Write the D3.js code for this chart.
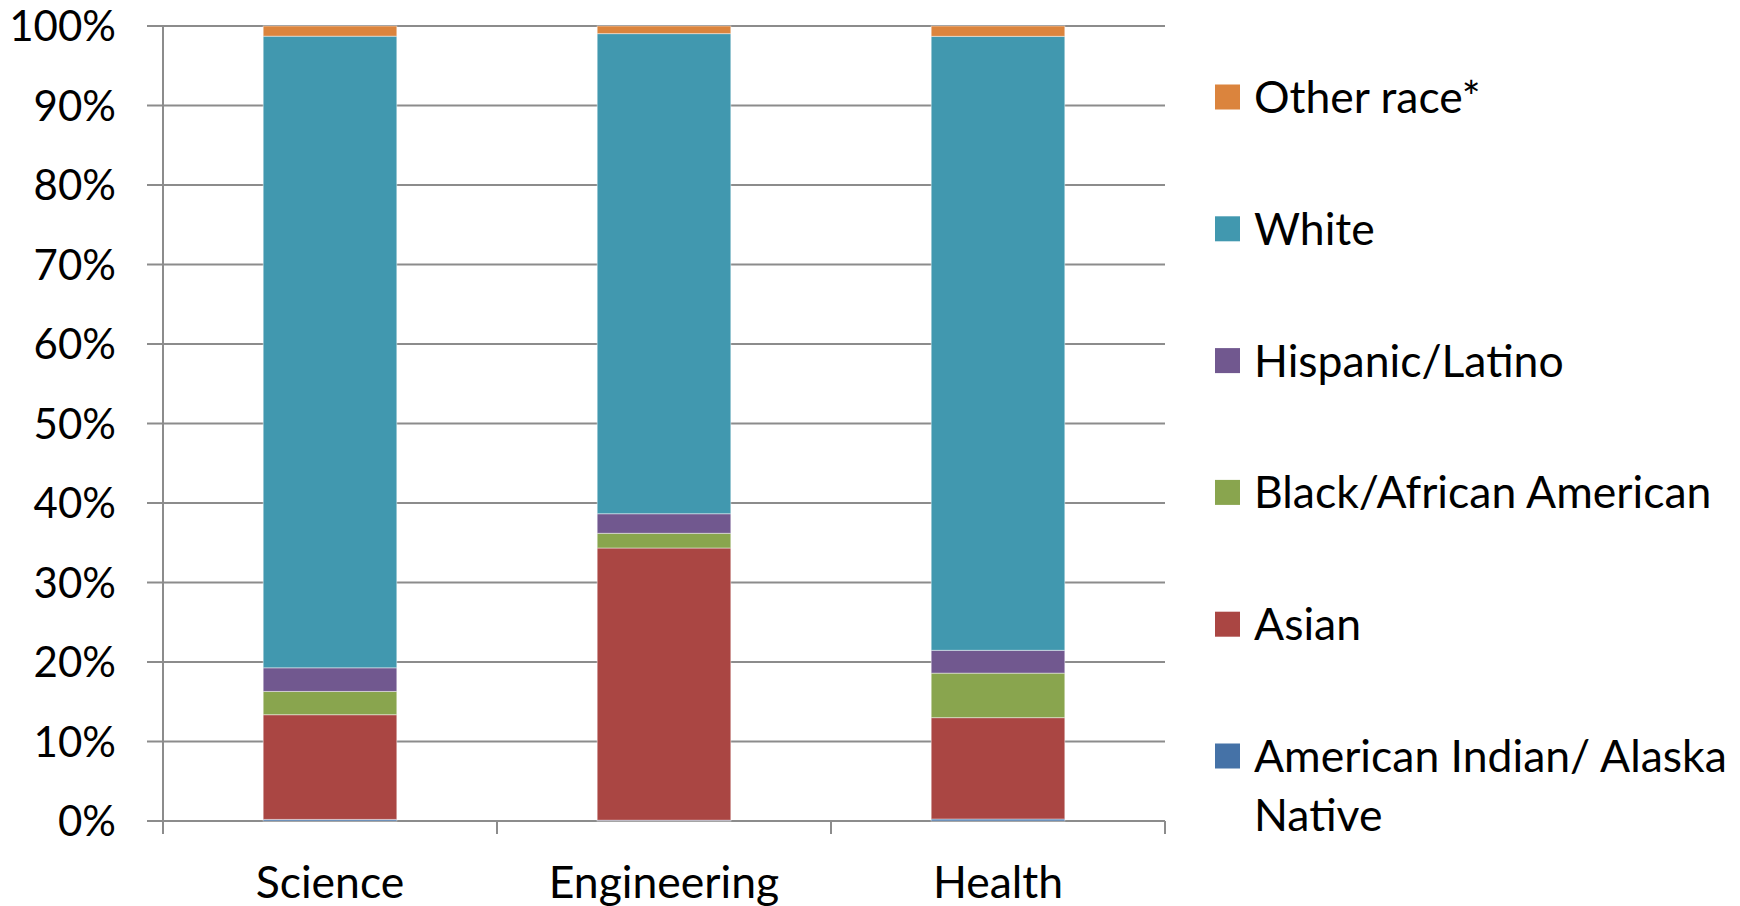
<!DOCTYPE html>
<html lang="en">
<head>
    <meta charset="UTF-8">
    <title>Race / ethnicity by field</title>
    <script src="https://d3js.org/d3.v7.min.js"></script>
    <style>
        body { margin: 0; background: #fff; }
        svg text {
            font-family: Lato, "Open Sans", sans-serif;
            fill: #000;
        }
        .grid line { stroke: #8c8c8c; stroke-width: 2px; }
    </style>
</head>
<body>
<svg id="chart" width="1740" height="906"></svg>

<script>
    // data (percent of each field)
    const fields = ["Science", "Engineering", "Health"];
    const groups = ["American Indian/ Alaska Native", "Asian", "Black/African American",
                    "Hispanic/Latino", "White", "Other race*"];
    const aian     = [0.2, 0.1, 0.25];
    const asian    = [13.17, 34.24, 12.75];
    const black    = [2.93, 1.85, 5.6];
    const hispanic = [2.97, 2.46, 2.87];
    const white    = [79.45, 60.39, 77.23];
    const other    = [1.28, 0.96, 1.3];
    const yTicks = [0, 10, 20, 30, 40, 50, 60, 70, 80, 90, 100];
    const colors = ["#4572a7", "#aa4643", "#89a54e", "#71588f", "#4198af", "#db843d"];

    const series = [aian, asian, black, hispanic, white, other];
    const rows = fields.map((f, i) => {
        const r = { field: f };
        groups.forEach((g, k) => r[g] = series[k][i]);
        return r;
    });

    const svg = d3.select("#chart");
    const plotL = 163, plotR = 1165, plotT = 26, plotB = 821;

    const x = d3.scaleBand().domain(fields).range([plotL, plotR]).paddingInner(0.6).paddingOuter(0.3);
    const xb = d3.scaleBand().domain(fields).range([plotL, plotR]);
    const y = d3.scaleLinear().domain([0, 100]).range([plotB, plotT]);
    const color = d3.scaleOrdinal().domain(groups).range(colors);

    // horizontal gridlines, they also poke out left as ticks
    svg.append("g").attr("class", "grid")
        .selectAll("line").data(yTicks).join("line")
        .attr("x1", plotL - 16).attr("x2", plotR)
        .attr("y1", d => y(d)).attr("y2", d => y(d));

    svg.append("g").selectAll("text").data(yTicks).join("text")
        .attr("x", 116).attr("y", d => y(d))
        .attr("dy", "0.36em")
        .attr("text-anchor", "end")
        .style("font-size", "42px")
        .text(d => d + "%");

    // vertical axis
    svg.append("line")
        .attr("x1", plotL).attr("x2", plotL).attr("y1", plotT).attr("y2", plotB)
        .attr("stroke", "#8c8c8c").attr("stroke-width", 2);

    // category boundaries as ticks under the axis
    const bounds = fields.map(f => xb(f)).concat([plotR]);
    svg.append("g").selectAll("line").data(bounds).join("line")
        .attr("x1", d => d).attr("x2", d => d)
        .attr("y1", plotB).attr("y2", plotB + 13)
        .attr("stroke", "#8c8c8c").attr("stroke-width", 2);

    const stack = d3.stack().keys(groups)(rows);

    svg.append("g").selectAll("g").data(stack).join("g")
        .attr("fill", d => color(d.key))
        .selectAll("rect").data(d => d).join("rect")
        .attr("x", d => x(d.data.field))
        .attr("width", x.bandwidth())
        .attr("y", d => y(d[1]))
        .attr("height", d => y(d[0]) - y(d[1]))
        .attr("stroke", "#ffffff").attr("stroke-opacity", 0.45).attr("stroke-width", 1);

    svg.append("g").selectAll("text").data(fields).join("text")
        .attr("x", d => xb(d) + xb.bandwidth() / 2)
        .attr("y", 898)
        .attr("text-anchor", "middle")
        .style("font-size", "44.5px")
        .text(d => d);

    // legend, top to bottom in reverse stack order
    const legendItems = groups.slice().reverse();
    const leg = svg.append("g").selectAll("g").data(legendItems).join("g")
        .attr("transform", (d, i) => `translate(1215,${97 + i * 131.8})`);

    leg.append("rect")
        .attr("x", 0).attr("y", -12.5).attr("width", 25).attr("height", 25)
        .attr("fill", d => color(d));

    leg.append("text")
        .attr("x", 39).attr("y", 0)
        .style("font-size", "44.5px")
        .each(function (d) {
            const parts = d === "American Indian/ Alaska Native"
                ? ["American Indian/ Alaska", "Native"] : [d];
            d3.select(this).selectAll("tspan").data(parts).join("tspan")
                .attr("x", 39)
                .attr("dy", (p, i) => i === 0 ? "0.36em" : "59px")
                .text(p => p);
        });
</script>
</body>
</html>
